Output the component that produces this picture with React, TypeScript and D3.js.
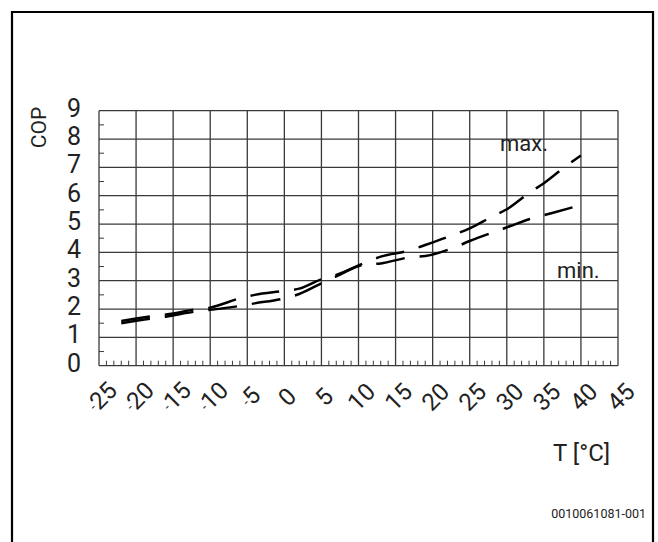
import React from "react";
import * as d3 from "d3";

const xTicks = [-25, -20, -15, -10, -5, 0, 5, 10, 15, 20, 25, 30, 35, 40, 45];
const yTicks = [0, 1, 2, 3, 4, 5, 6, 7, 8, 9];

const maxT = [-22, -18, -15, -12, -10, -6, -4, 0, 2, 5, 7, 11, 13, 17, 19, 22.5, 25, 28, 30, 33, 35, 38, 40];
const maxCOP = [1.58, 1.74, 1.84, 1.99, 2.05, 2.38, 2.5, 2.64, 2.72, 3.05, 3.2, 3.65, 3.85, 4.08, 4.26, 4.59, 4.85, 5.26, 5.52, 6.1, 6.44, 7.05, 7.42];

const minT = [-22, -18, -16, -12, -10, -6, -4, 0, 2, 5, 7, 10.5, 13, 17, 19, 23, 25, 28.5, 30.5, 33, 36, 40];
const minCOP = [1.5, 1.66, 1.73, 1.91, 1.97, 2.11, 2.2, 2.38, 2.53, 2.91, 3.15, 3.55, 3.61, 3.83, 3.87, 4.18, 4.4, 4.74, 4.93, 5.17, 5.38, 5.67];

const FONT = "Roboto, 'Liberation Sans', sans-serif";

export default function App() {
  const W = 658, H = 542;
  const x = d3.scaleLinear().domain([-25, 45]).range([99, 618]);
  const y = d3.scaleLinear().domain([0, 9]).range([365.7, 110.7]);
  const line = d3.line<[number, number]>().x(d => x(d[0])).y(d => y(d[1])).curve(d3.curveMonotoneX);
  const maxData: [number, number][] = maxT.map((t, i) => [t, maxCOP[i]]);
  const minData: [number, number][] = minT.map((t, i) => [t, minCOP[i]]);
  const minorX = d3.range(-25, 45, 1).filter(v => v % 5 !== 0);
  const minorY = d3.range(0.5, 9, 1);
  const grid = "#3a3a3a";
  return (
    <svg width={W} height={H} style={{ position: "absolute", left: 0, top: 0, display: "block" }}>
      <rect x={0} y={0} width={W} height={H} fill="#fff" />
      <path d={`M12,${H + 2} L12,12 L653,12 L653,${H + 2}`} fill="none" stroke="#000" strokeWidth={2.2} />
      {xTicks.map(t => (
        <line key={"gx" + t} x1={x(t)} x2={x(t)} y1={y(9)} y2={y(0)} stroke={grid} strokeWidth={1.3} />
      ))}
      {yTicks.map(t => (
        <line key={"gy" + t} x1={x(-25)} x2={x(45)} y1={y(t)} y2={y(t)} stroke={grid} strokeWidth={1.3} />
      ))}
      {minorX.map(t => (
        <line key={"mx" + t} x1={x(t)} x2={x(t)} y1={y(0)} y2={y(0) - 5} stroke={grid} strokeWidth={1} />
      ))}
      {minorY.map(t => (
        <line key={"my" + t} x1={x(-25)} x2={x(-25) + 5} y1={y(t)} y2={y(t)} stroke={grid} strokeWidth={1} />
      ))}
      <path d={line(maxData) || ""} fill="none" stroke="#000" strokeWidth={2.5} strokeDasharray="29,15" />
      <path d={line(minData) || ""} fill="none" stroke="#000" strokeWidth={2.5} strokeDasharray="29,15" />
      {yTicks.map(t => (
        <text key={"yl" + t} x={81} y={y(t) + 6} textAnchor="end" fontFamily={FONT} fontSize={25} fill="#222">{t}</text>
      ))}
      <text transform={`translate(46,127.5) rotate(-90)`} textAnchor="middle" fontFamily={FONT} fontSize={21} fill="#222">COP</text>
      {xTicks.map(t => (
        <text key={"xl" + t} transform={`translate(${x(t) + 3},${397}) rotate(-45)`} textAnchor="middle" dominantBaseline="central" fontFamily={FONT} fontSize={24} fill="#222">
          {t < 0 ? <tspan fontSize={13}>-</tspan> : null}
          {Math.abs(t)}
        </text>
      ))}
      <text x={610} y={461} textAnchor="end" fontFamily={FONT} fontSize={24} fill="#222">T [°C]</text>
      <text x={500} y={151} fontFamily={FONT} fontSize={22} fill="#222">max.</text>
      <text x={557} y={278} fontFamily={FONT} fontSize={22} fill="#222">min.</text>
      <text x={646} y={518} textAnchor="end" fontFamily={FONT} fontSize={12.5} fill="#222">0010061081-001</text>
    </svg>
  );
}
